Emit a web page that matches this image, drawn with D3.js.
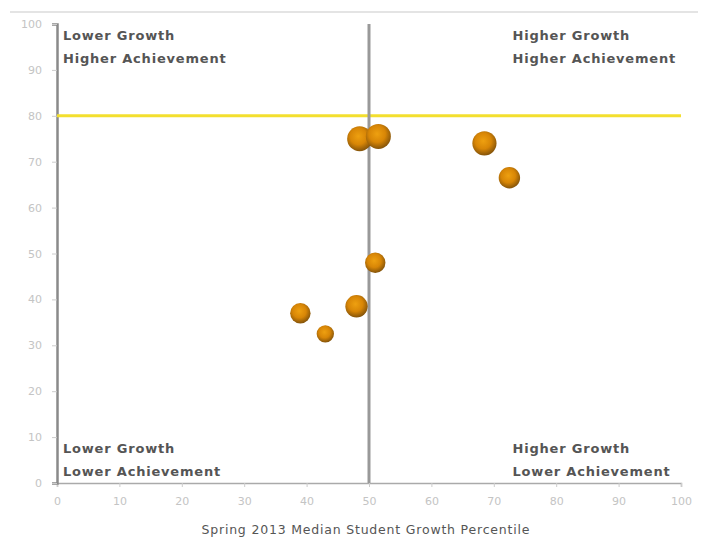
<!DOCTYPE html>
<html lang="en">
<head>
    <meta charset="UTF-8">
    <title>Growth vs Achievement</title>
    <script src="https://d3js.org/d3.v7.min.js"></script>
    <style>
        body { margin: 0; background: #fff; font-family: "DejaVu Sans", Verdana, sans-serif; }
        .tick text { fill: #c4c4c4; font-size: 11px; font-family: "DejaVu Sans", sans-serif; }
        .quad { font-size: 13px; font-weight: bold; fill: #555; letter-spacing: 0.8px; }
        .x-title { font-size: 12.5px; fill: #555; letter-spacing: 0.8px; }
    </style>
</head>
<body>
    <svg width="702" height="540"></svg>
    <script>
        // growth percentile, achievement, bubble size
        const growth = [48.5, 51.5, 68.5, 72.5, 51, 48, 39, 43];
        const achievement = [75, 75.5, 74, 66.5, 48, 38.5, 37, 32.5];
        const sizes = [150, 150, 140, 110, 100, 120, 100, 72];
        const ticks = [0, 10, 20, 30, 40, 50, 60, 70, 80, 90, 100];
        const quadLabels = [
            { lines: ["Lower Growth", "Higher Achievement"], side: "left", pos: "top" },
            { lines: ["Higher Growth", "Higher Achievement"], side: "right", pos: "top" },
            { lines: ["Lower Growth", "Lower Achievement"], side: "left", pos: "bottom" },
            { lines: ["Higher Growth", "Lower Achievement"], side: "right", pos: "bottom" }
        ];
        const growthLine = 50;
        const achievementLine = 80;

        const margin = { top: 24, right: 21, bottom: 57, left: 57 };
        const width = 702, height = 540;

        const svg = d3.select("svg");

        // faint top border
        svg.append("line")
            .attr("x1", 10).attr("x2", width - 4)
            .attr("y1", 12).attr("y2", 12)
            .attr("stroke", "#e4e4e4").attr("stroke-width", 2);

        const x = d3.scaleLinear().domain([0, 100]).range([margin.left, width - margin.right]);
        const y = d3.scaleLinear().domain([0, 100]).range([height - margin.bottom, margin.top]);
        const r = d3.scaleSqrt().domain([0, 150]).range([0, 12.5]);

        const xAxis = svg.append("g")
            .attr("transform", `translate(0,${y(0)})`)
            .call(d3.axisBottom(x).tickValues(ticks).tickSize(4).tickPadding(10));
        xAxis.select(".domain").attr("stroke", "#aaa").attr("stroke-width", 1.5);
        xAxis.selectAll(".tick line").attr("stroke", "#ccc");

        const yAxis = svg.append("g")
            .attr("transform", `translate(${x(0)},0)`)
            .call(d3.axisLeft(y).tickValues(ticks).tickSize(5).tickPadding(10));
        yAxis.select(".domain").attr("stroke", "#8a8a8a").attr("stroke-width", 2.5);
        yAxis.selectAll(".tick line").attr("stroke", "#ccc");

        // reference lines
        svg.append("line")
            .attr("x1", x(0)).attr("x2", x(100))
            .attr("y1", y(achievementLine)).attr("y2", y(achievementLine))
            .attr("stroke", "#f3df2e").attr("stroke-width", 3);
        svg.append("line")
            .attr("x1", x(growthLine)).attr("x2", x(growthLine))
            .attr("y1", y(100)).attr("y2", y(0))
            .attr("stroke", "#999").attr("stroke-width", 3);

        // bubble gradient
        const grad = svg.append("defs").append("radialGradient")
            .attr("id", "ball").attr("cx", "45%").attr("cy", "40%").attr("r", "60%");
        grad.append("stop").attr("offset", "0%").attr("stop-color", "#eea010");
        grad.append("stop").attr("offset", "55%").attr("stop-color", "#d88606");
        grad.append("stop").attr("offset", "100%").attr("stop-color", "#85540a");

        const pts = growth.map((g, i) => ({ g, a: achievement[i], s: sizes[i] }));
        svg.selectAll("circle.pt").data(pts).enter()
            .append("circle")
            .attr("class", "pt")
            .attr("cx", d => x(d.g))
            .attr("cy", d => y(d.a))
            .attr("r", d => r(d.s))
            .attr("fill", "url(#ball)");

        // quadrant labels
        quadLabels.forEach(q => {
            const tx = q.side === "left" ? x(0) + 6 : x(73);
            const ty = q.pos === "top" ? y(100) + 16 : y(0) - 30;
            q.lines.forEach((l, i) => {
                svg.append("text").attr("class", "quad")
                    .attr("x", tx).attr("y", ty + i * 22.5)
                    .text(l);
            });
        });

        svg.append("text").attr("class", "x-title")
            .attr("x", x(49.5)).attr("y", 534)
            .attr("text-anchor", "middle")
            .text("Spring 2013 Median Student Growth Percentile");
    </script>
</body>
</html>
